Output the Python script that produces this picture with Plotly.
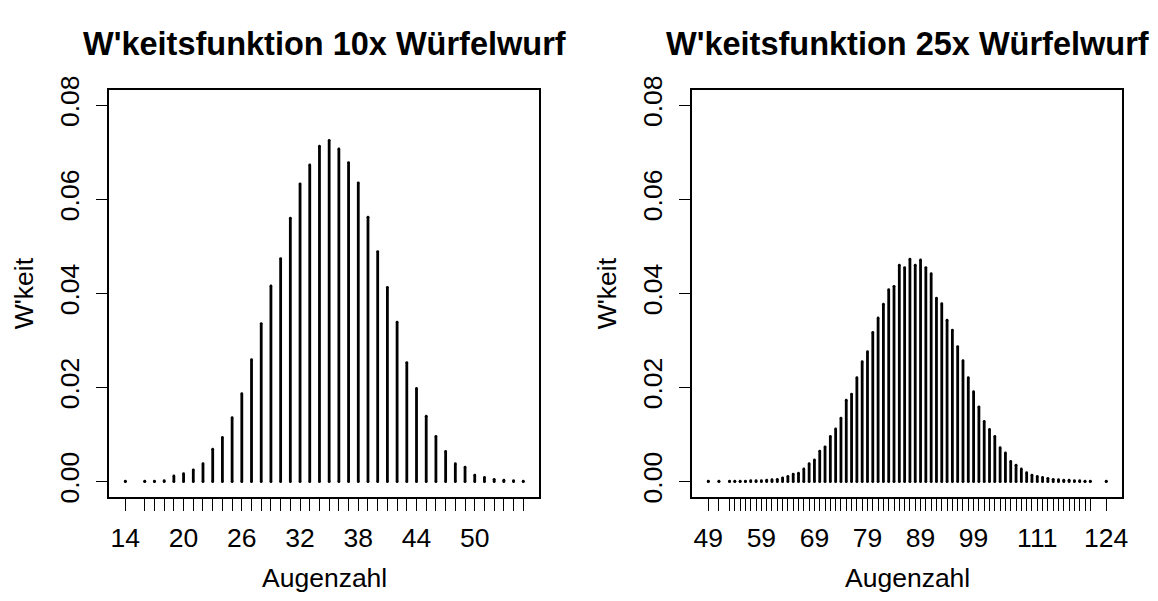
import plotly.graph_objects as go

# Empirical probability functions of the sum of dice throws
# 10 dice
augen_10 = [14, 16, 17, 18, 19, 20, 21, 22, 23, 24, 25, 26, 27, 28, 29, 30, 31, 32, 33, 34,
            35, 36, 37, 38, 39, 40, 41, 42, 43, 44, 45, 46, 47, 48, 49, 50, 51, 52, 53, 54, 55]
wkeit_10 = [0.0001, 0.0001, 0.0001, 0.0002, 0.0012, 0.0017, 0.0025, 0.0038, 0.0069, 0.0094,
            0.0136, 0.0187, 0.0259, 0.0336, 0.0416, 0.0474, 0.0560, 0.0633, 0.0673, 0.0713,
            0.0725, 0.0707, 0.0678, 0.0635, 0.0562, 0.0489, 0.0413, 0.0339, 0.0253, 0.0198,
            0.0139, 0.0096, 0.0064, 0.0038, 0.0031, 0.0014, 0.0009, 0.0005, 0.0003, 0.0002,
            0.0001]
labels_10 = [14, 20, 26, 32, 38, 44, 50]

# 25 dice
augen_25 = [49, 51] + list(range(53, 122)) + [124]
wkeit_25 = [0.0001, 0.0001, 0.0001, 0.0001, 0.0001, 0.0001, 0.0002, 0.0002, 0.0002, 0.0003,
            0.0004, 0.0005, 0.0008, 0.0011, 0.0016, 0.0018, 0.0027, 0.0038, 0.0046, 0.0065,
            0.0074, 0.0096, 0.0112, 0.0135, 0.0173, 0.0186, 0.0221, 0.0255, 0.0276, 0.0317,
            0.0348, 0.0377, 0.0408, 0.0415, 0.0460, 0.0455, 0.0473, 0.0460, 0.0471, 0.0455,
            0.0442, 0.0390, 0.0378, 0.0343, 0.0322, 0.0287, 0.0257, 0.0221, 0.0191, 0.0159,
            0.0128, 0.0111, 0.0096, 0.0072, 0.0061, 0.0043, 0.0035, 0.0027, 0.0019, 0.0014,
            0.0011, 0.0009, 0.0007, 0.0005, 0.0004, 0.0003, 0.0003, 0.0002, 0.0002, 0.0001,
            0.0001, 0.0001]
labels_25 = [49, 59, 69, 79, 89, 99, 111, 124]

y_ticks = [0.00, 0.02, 0.04, 0.06, 0.08]
y_ticktext = ["0.00", "0.02", "0.04", "0.06", "0.08"]

W, H = 1158, 601
FONT = "Liberation Sans, Arial, sans-serif"
AX_SIZE = 26.5
TITLE_SIZE = 32.5
STEM_W = 2.8


def stems(xs, ys, xa, ya):
    """Vertical lines from 0 to each probability (type='h'), with round ends."""
    lx, ly = [], []
    for x, y in zip(xs, ys):
        lx += [x, x, None]
        ly += [0, y, None]
    line = go.Scatter(x=lx, y=ly, mode="lines", xaxis=xa, yaxis=ya,
                      line=dict(color="black", width=STEM_W), hoverinfo="skip",
                      showlegend=False)
    caps = go.Scatter(x=list(xs) + list(xs), y=list(ys) + [0] * len(ys), mode="markers",
                      xaxis=xa, yaxis=ya, marker=dict(color="black", size=STEM_W),
                      hoverinfo="skip", showlegend=False)
    return [line, caps]


fig = go.Figure()
for t in stems(augen_10, wkeit_10, "x", "y"):
    fig.add_trace(t)
for t in stems(augen_25, wkeit_25, "x2", "y2"):
    fig.add_trace(t)

# plot boxes in pixels: (left, right, top, bottom)
boxes = [(110, 542, 78, 500), (696, 1128, 78, 500)]


def xdom(b):
    return [b[0] / W, b[1] / W]


def ydom(b):
    return [1 - b[3] / H, 1 - b[2] / H]


def pad(lo, hi):
    d = (hi - lo) * 0.04
    return [lo - d, hi + d]


def xaxis_cfg(b, vals, labels):
    return dict(
        domain=xdom(b), range=pad(min(vals), max(vals)),
        tickmode="array", tickvals=vals,
        ticktext=[str(v) if v in labels else "" for v in vals],
        ticks="outside", ticklen=13, tickwidth=1.4, tickcolor="black",
        showline=True, mirror=True, linecolor="black", linewidth=1.6,
        showgrid=False, zeroline=False, fixedrange=True,
        tickfont=dict(family=FONT, size=AX_SIZE, color="black"),
        ticklabelstandoff=4,
    )


def yaxis_cfg(b, anchor):
    return dict(
        domain=ydom(b), range=pad(0, 0.08), anchor=anchor,
        tickmode="array", tickvals=y_ticks, ticktext=y_ticktext, tickangle=-90,
        ticks="outside", ticklen=12, tickwidth=1.4, tickcolor="black",
        showline=True, mirror=True, linecolor="black", linewidth=1.6,
        showgrid=False, zeroline=False, fixedrange=True,
        tickfont=dict(family=FONT, size=AX_SIZE, color="black"),
        ticklabelstandoff=6,
    )


fig.update_layout(
    width=W, height=H, margin=dict(l=0, r=0, t=0, b=0),
    paper_bgcolor="white", plot_bgcolor="white",
    xaxis=dict(anchor="y", **xaxis_cfg(boxes[0], augen_10, labels_10)),
    yaxis=yaxis_cfg(boxes[0], "x"),
    xaxis2=dict(anchor="y2", **xaxis_cfg(boxes[1], augen_25, labels_25)),
    yaxis2=yaxis_cfg(boxes[1], "x2"),
    showlegend=False,
)

titles = ["W'keitsfunktion 10x Würfelwurf", "W'keitsfunktion 25x Würfelwurf"]
for b, t in zip(boxes, titles):
    cx = (b[0] + b[1]) / 2 / W
    fig.add_annotation(text=f"<b>{t}</b>", x=cx, y=1 - 30 / H, xref="paper", yref="paper",
                       showarrow=False, xanchor="center", yanchor="middle",
                       font=dict(family=FONT, size=TITLE_SIZE, color="black"))
    fig.add_annotation(text="Augenzahl", x=cx, y=1 - 584 / H, xref="paper", yref="paper",
                       showarrow=False, xanchor="center", yanchor="middle",
                       font=dict(family=FONT, size=AX_SIZE, color="black"))
    fig.add_annotation(text="W'keit", x=(b[0] - 85) / W, y=1 - (b[2] + b[3]) / 2 / H,
                       xref="paper", yref="paper", textangle=-90,
                       showarrow=False, xanchor="center", yanchor="middle",
                       font=dict(family=FONT, size=AX_SIZE, color="black"))

fig.write_html("out.html")
